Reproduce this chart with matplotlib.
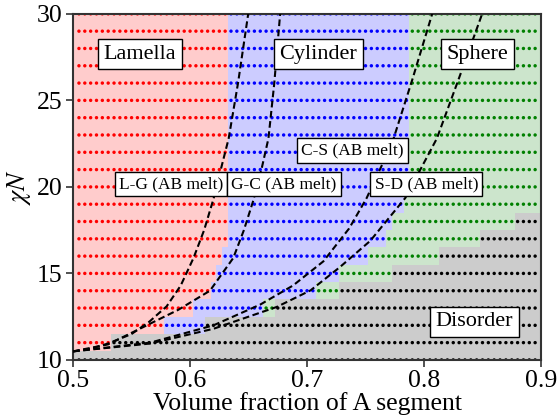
import numpy as np
import matplotlib
matplotlib.use('Agg')
import matplotlib.pyplot as plt
from matplotlib.colors import ListedColormap, BoundaryNorm

plt.rcParams['font.family'] = 'Liberation Serif'
plt.rcParams['mathtext.fontset'] = 'stix'

# simulation grid
f_grid = np.round(np.arange(0.505, 0.8951, 0.005), 3)
chiN_rows = np.arange(10, 31)

# first f of each phase along every chiN row (L below start_cyl, D from start_dis on)
start_cyl = [0.505, 0.535, 0.580, 0.605, 0.620, 0.625, 0.630, 0.635, 0.635, 0.635, 0.635,
             0.635, 0.635, 0.635, 0.635, 0.635, 0.635, 0.635, 0.635, 0.635, 0.635]
start_sph = [0.505, 0.535, 0.615, 0.665, 0.710, 0.730, 0.755, 0.770, 0.775, 0.785, 0.790,
             0.790, 0.790, 0.790, 0.790, 0.790, 0.790, 0.790, 0.790, 0.790, 0.790]
start_dis = [0.505, 0.535, 0.615, 0.675, 0.730, 0.775, 0.815, 0.850, 0.880, 0.905, 0.905,
             0.905, 0.905, 0.905, 0.905, 0.905, 0.905, 0.905, 0.905, 0.905, 0.905]

# literature phase boundaries (AB melt)
lg_f = [0.500, 0.515, 0.530, 0.550, 0.565, 0.580, 0.592, 0.603, 0.612, 0.620, 0.627, 0.633, 0.641, 0.6497]
lg_chi = [10.495, 10.65, 10.95, 11.5, 12.2, 13.1, 14.3, 15.9, 17.5, 19.3, 21.2, 22.8, 26.0, 30.0]
gc_f = [0.500, 0.530, 0.560, 0.590, 0.617, 0.637, 0.646, 0.654, 0.661, 0.667, 0.672, 0.677]
gc_chi = [10.495, 10.9, 11.9, 12.9, 14.0, 15.9, 17.5, 19.2, 21.0, 22.8, 26.0, 30.0]
cs_f = [0.500, 0.566, 0.620, 0.660, 0.688, 0.714, 0.736, 0.751, 0.765, 0.774, 0.790, 0.807]
cs_chi = [10.495, 11.0, 12.0, 13.2, 14.3, 15.7, 17.6, 19.36, 21.4, 22.8, 26.2, 30.0]
sd_f = [0.500, 0.566, 0.620, 0.674, 0.703, 0.728, 0.754, 0.784, 0.811, 0.830, 0.8497]
sd_chi = [10.495, 10.95, 11.8, 13.06, 14.02, 15.36, 16.88, 19.36, 22.8, 26.3, 30.0]

phase_colors = ['red', 'blue', 'green', 'black']
phase = np.zeros((len(chiN_rows), len(f_grid)), dtype=int)
for i in range(len(chiN_rows)):
    phase[i] = np.where(f_grid < start_cyl[i], 0,
               np.where(f_grid < start_sph[i], 1,
               np.where(f_grid < start_dis[i], 2, 3)))

fig = plt.figure(figsize=(5.58, 4.2), dpi=100)
ax = fig.add_axes([0.131, 0.143, 0.8385, 0.824])

# background cells
xe = np.concatenate([[0.5], (f_grid[1:] + f_grid[:-1]) / 2, [0.9]])
ye = np.concatenate([chiN_rows - 0.5, [chiN_rows[-1] + 0.5]])
cmap = ListedColormap(phase_colors)
ax.pcolormesh(xe, ye, phase, cmap=cmap, norm=BoundaryNorm([-0.5, 0.5, 1.5, 2.5, 3.5], 4),
              alpha=0.2, edgecolors='none', zorder=0)

# grid points
F, C = np.meshgrid(f_grid, chiN_rows)
ax.scatter(F.ravel(), C.ravel(), c=[phase_colors[p] for p in phase.ravel()], s=6,
           linewidths=0, zorder=2, clip_on=True)

for fx, cy in [(lg_f, lg_chi), (gc_f, gc_chi), (cs_f, cs_chi), (sd_f, sd_chi)]:
    ax.plot(fx, cy, ls=(0, (3.2, 1.7)), color='black', lw=1.5, zorder=3)

box = dict(boxstyle='square,pad=0.25', fc='white', ec='black', lw=1)
for txt, x, y in [('Lamella', 0.557, 27.67), ('Cylinder', 0.7095, 27.67),
                  ('Sphere', 0.8457, 27.67), ('Disorder', 0.843, 12.2)]:
    ax.text(x, y, txt, fontsize=16, ha='center', va='center', bbox=box, zorder=5)
for txt, x, y in [('L-G (AB melt)', 0.5837, 20.17), ('G-C (AB melt)', 0.680, 20.17),
                  ('C-S (AB melt)', 0.7386, 22.1), ('S-D (AB melt)', 0.802, 20.17)]:
    ax.text(x, y, txt, fontsize=12.5, ha='center', va='center', bbox=box, zorder=5)

ax.set_xlim(0.5, 0.9)
ax.set_ylim(10, 30)
ax.set_xticks([0.5, 0.6, 0.7, 0.8, 0.9])
ax.set_yticks([10, 15, 20, 25, 30])
ax.tick_params(labelsize=18.5, direction='out', length=5, width=1.2, color='#333333', pad=2.5)
for s in ax.spines.values():
    s.set_color('#333333')
    s.set_linewidth(1.5)
ax.set_xlabel('Volume fraction of A segment', fontsize=18.5, labelpad=0)
ax.set_ylabel(r'$\chi N$', fontsize=19, labelpad=3)

fig.savefig('out.png', dpi=100)
